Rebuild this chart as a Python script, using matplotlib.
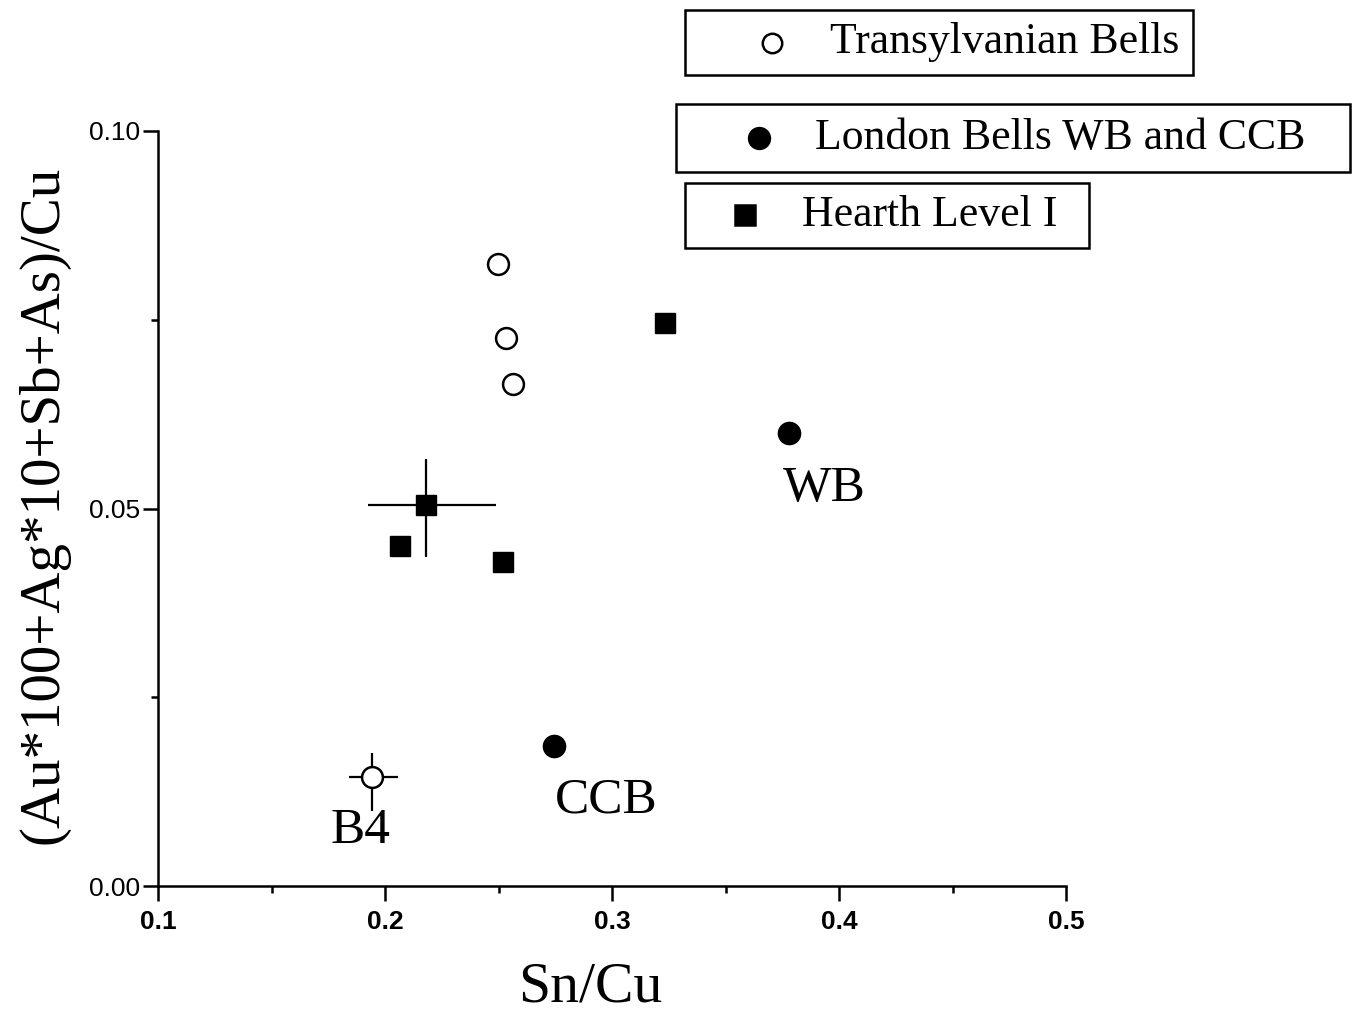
import matplotlib
matplotlib.use('Agg')
import matplotlib.pyplot as plt
from matplotlib.patches import Rectangle
from matplotlib.lines import Line2D
from matplotlib.ticker import MultipleLocator

# data
trans_x = [0.2498, 0.2533, 0.2564, 0.1943]
trans_y = [0.0824, 0.0726, 0.0665, 0.0144]
london_x = [0.378, 0.2744]
london_y = [0.0600, 0.0185]
hearth_x = [0.3233, 0.218, 0.2066, 0.252]
hearth_y = [0.0746, 0.0505, 0.0450, 0.0429]

# error bars (point, left, right, down, up)
err_pts_x = [0.218, 0.1943]
err_pts_y = [0.0505, 0.0144]
err_x_lo = [0.0256, 0.0101]
err_x_hi = [0.0308, 0.0115]
err_y_lo = [0.0069, 0.0044]
err_y_hi = [0.0060, 0.0032]

labels = ['WB', 'CCB', 'B4']
label_xy = [(0.3934, 0.0526), (0.2974, 0.0114), (0.189, 0.0073)]

legend_names = ['Transylvanian Bells', 'London Bells WB and CCB', 'Hearth Level I']

serif = 'Liberation Serif'
sans = 'Liberation Sans'

W, H = 1356, 1011
fig = plt.figure(figsize=(W / 100, H / 100), dpi=100)
ax = fig.add_axes([158 / W, 1 - 886 / H, (1066 - 158) / W, (886 - 131) / H])

ax.errorbar(err_pts_x, err_pts_y, xerr=[err_x_lo, err_x_hi], yerr=[err_y_lo, err_y_hi],
            fmt='none', ecolor='black', elinewidth=1.6, capsize=0, zorder=2)
ax.plot(trans_x, trans_y, 'o', ms=15, mfc='white', mec='black', mew=1.8, zorder=3)
ax.plot(london_x, london_y, 'o', ms=16, mfc='black', mec='black', zorder=3)
ax.plot(hearth_x, hearth_y, 's', ms=15, mfc='black', mec='black', zorder=3)

for t, (x, y) in zip(labels, label_xy):
    ax.text(x, y, t, ha='center', va='center', fontsize=37, family=serif)

ax.set_xlim(0.1, 0.5)
ax.set_ylim(0.0, 0.1)
ax.xaxis.set_minor_locator(MultipleLocator(0.05))
ax.yaxis.set_minor_locator(MultipleLocator(0.025))
ax.set_xticks([0.1, 0.2, 0.3, 0.4, 0.5])
ax.set_xticklabels(['0.1', '0.2', '0.3', '0.4', '0.5'], fontweight='bold', family=sans, fontsize=19)
ax.set_yticks([0.0, 0.05, 0.10])
ax.set_yticklabels(['0.00', '0.05', '0.10'], family=sans, fontsize=19)

for s in ['top', 'right']:
    ax.spines[s].set_visible(False)
for s in ['left', 'bottom']:
    ax.spines[s].set_linewidth(1.8)
ax.tick_params(which='major', direction='out', length=11, width=1.8)
ax.tick_params(which='minor', direction='out', length=5, width=1.8)
ax.tick_params(axis='x', which='major', pad=6)
ax.tick_params(axis='y', which='major', pad=2)

ax.set_xlabel('Sn/Cu', family=serif, fontsize=41.5)
ax.set_ylabel('(Au*100+Ag*10+Sb+As)/Cu', family=serif, fontsize=41)
ax.xaxis.set_label_coords(0.476, -0.10)
ax.yaxis.set_label_coords(-0.097, 0.505)

# separate legend boxes
boxes = [(685, 10, 1193, 75), (676, 104, 1350, 172), (685, 183, 1089, 248)]
mk = [('o', 'white', 14), ('o', 'black', 15), ('s', 'black', 14)]
mk_x = [772, 759, 745]
txt_x = [830, 815, 802]
for (x0, y0, x1, y1), (m, fc, ms), mx, tx, name in zip(boxes, mk, mk_x, txt_x, legend_names):
    fig.add_artist(Rectangle((x0 / W, 1 - y1 / H), (x1 - x0) / W, (y1 - y0) / H,
                             transform=fig.transFigure, fill=False, ec='black', lw=1.8))
    yc = 1 - (y0 + y1) / 2 / H
    fig.add_artist(Line2D([mx / W], [yc], marker=m, ms=ms, mfc=fc, mec='black', mew=1.8,
                          transform=fig.transFigure))
    fig.text(tx / W, yc, name, ha='left', va='center', family=serif, fontsize=31.5)

fig.savefig('out.png', dpi=100)
